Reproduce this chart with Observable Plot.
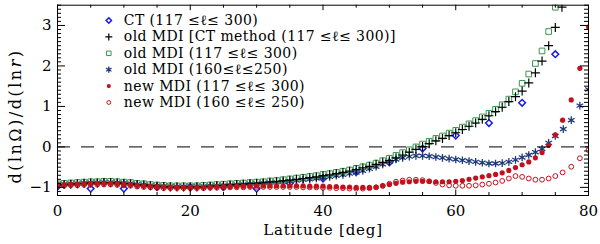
<!DOCTYPE html>
<html><head><meta charset="utf-8">
<script src="https://cdn.jsdelivr.net/npm/d3@7"></script>
<script src="https://cdn.jsdelivr.net/npm/@observablehq/plot@0.6"></script>
<style>html,body{margin:0;padding:0;background:#fff}#chart svg{display:block}</style>
</head><body><div id="chart"></div>
<script>
// ---- data ----
const latCT = [0,5,10,15,20,25,30,35,40,45,50,55,60,65,70,75];
const valCT = [-0.98,-1.03,-1.03,-0.99,-0.99,-0.99,-1.03,-0.9,-0.78,-0.62,-0.38,-0.04,0.28,0.59,1.09,2.29];

const latOld117 = [0,1,2,3,4,5,6,7,8,9,10,11,12,13,14,15,16,17,18,19,20,21,22,23,24,25,26,27,28,29,30,31,32,33,34,35,36,37,38,39,40,41,42,43,44,45,46,47,48,49,50,51,52,53,54,55,56,57,58,59,60,61,62,63,64,65,66,67,68,69,70,71,72,73,74,75];
const valOld117 = [-0.91,-0.9,-0.89,-0.88,-0.87,-0.86,-0.86,-0.85,-0.85,-0.86,-0.87,-0.88,-0.9,-0.91,-0.93,-0.94,-0.95,-0.96,-0.96,-0.96,-0.96,-0.96,-0.95,-0.94,-0.93,-0.92,-0.91,-0.9,-0.89,-0.88,-0.87,-0.86,-0.84,-0.83,-0.81,-0.79,-0.77,-0.75,-0.73,-0.71,-0.68,-0.66,-0.63,-0.6,-0.57,-0.53,-0.49,-0.45,-0.4,-0.34,-0.28,-0.21,-0.14,-0.07,0.0,0.07,0.14,0.21,0.27,0.34,0.41,0.49,0.57,0.65,0.74,0.83,0.93,1.04,1.18,1.36,1.57,1.8,2.06,2.37,2.85,3.45];

const latOldCT = [0,1,2,3,4,5,6,7,8,9,10,11,12,13,14,15,16,17,18,19,20,21,22,23,24,25,26,27,28,29,30,31,32,33,34,35,36,37,38,39,40,41,42,43,44,45,46,47,48,49,50,51,52,53,54,55,56,57,58,59,60,61,62,63,64,65,66,67,68,69,70,71,72,73,74,75,76];
const valOldCT = [-0.94,-0.93,-0.92,-0.91,-0.9,-0.89,-0.89,-0.88,-0.88,-0.89,-0.9,-0.91,-0.93,-0.94,-0.96,-0.97,-0.98,-0.99,-0.99,-0.99,-0.99,-0.99,-0.98,-0.97,-0.96,-0.95,-0.94,-0.93,-0.92,-0.91,-0.9,-0.89,-0.87,-0.86,-0.84,-0.82,-0.8,-0.78,-0.76,-0.74,-0.71,-0.69,-0.66,-0.63,-0.6,-0.56,-0.52,-0.48,-0.43,-0.38,-0.34,-0.27,-0.2,-0.13,-0.06,0.01,0.08,0.15,0.21,0.28,0.35,0.43,0.51,0.59,0.68,0.77,0.87,0.98,1.12,1.24,1.38,1.58,1.83,2.12,2.5,2.95,3.45];

const latOld160 = [0,1,2,3,4,5,6,7,8,9,10,11,12,13,14,15,16,17,18,19,20,21,22,23,24,25,26,27,28,29,30,31,32,33,34,35,36,37,38,39,40,41,42,43,44,45,46,47,48,49,50,51,52,53,54,55,56,57,58,59,60,61,62,63,64,65,66,67,68,69,70,71,72,73,74,75,76.2,77.4,78.7,80];
const valOld160 = [-0.93,-0.92,-0.91,-0.9,-0.89,-0.88,-0.88,-0.87,-0.87,-0.88,-0.89,-0.9,-0.92,-0.93,-0.95,-0.96,-0.97,-0.97,-0.98,-0.98,-0.98,-0.97,-0.97,-0.96,-0.95,-0.95,-0.94,-0.93,-0.92,-0.91,-0.9,-0.89,-0.88,-0.87,-0.86,-0.85,-0.83,-0.81,-0.8,-0.78,-0.76,-0.74,-0.71,-0.69,-0.66,-0.63,-0.59,-0.54,-0.49,-0.43,-0.37,-0.31,-0.27,-0.24,-0.22,-0.22,-0.23,-0.25,-0.27,-0.29,-0.31,-0.33,-0.35,-0.37,-0.39,-0.41,-0.41,-0.4,-0.37,-0.32,-0.26,-0.2,-0.13,-0.05,0.1,0.27,0.44,0.66,1.02,1.42];

const latNew117 = [0,1,2,3,4,5,6,7,8,9,10,11,12,13,14,15,16,17,18,19,20,21,22,23,24,25,26,27,28,29,30,31,32,33,34,35,36,37,38,39,40,41,42,43,44,45,46,47,48,49,50,51,52,53,54,55,56,57,58,59,60,61,62,63,64,65,66,67,68,69,70,71,72,73,74,75,76.1,77.4,78.7,80];
const valNew117 = [-0.93,-0.93,-0.92,-0.92,-0.91,-0.9,-0.9,-0.9,-0.9,-0.91,-0.92,-0.93,-0.95,-0.96,-0.97,-0.98,-0.98,-0.99,-0.99,-0.99,-0.99,-0.99,-0.99,-0.99,-0.98,-0.98,-0.98,-0.97,-0.97,-0.97,-0.96,-0.96,-0.96,-0.96,-0.96,-0.96,-0.96,-0.96,-0.97,-0.97,-0.97,-0.98,-0.98,-0.99,-0.99,-1.0,-1.0,-1.0,-0.99,-0.96,-0.93,-0.9,-0.87,-0.86,-0.85,-0.85,-0.85,-0.86,-0.86,-0.86,-0.85,-0.83,-0.8,-0.77,-0.74,-0.71,-0.68,-0.64,-0.58,-0.51,-0.44,-0.37,-0.27,-0.14,0.04,0.3,0.66,1.16,1.94,2.96];

const latNew160 = [0,1,2,3,4,5,6,7,8,9,10,11,12,13,14,15,16,17,18,19,20,21,22,23,24,25,26,27,28,29,30,31,32,33,34,35,36,37,38,39,40,41,42,43,44,45,46,47,48,49,50,51,52,53,54,55,56,57,58,59,60,61,62,63,64,65,66,67,68,69,70,71,72,73,74,75,76.1,77.4,78.7,80];
const valNew160 = [-0.96,-0.96,-0.95,-0.95,-0.94,-0.93,-0.93,-0.93,-0.93,-0.94,-0.95,-0.96,-0.98,-0.99,-1.0,-1.01,-1.02,-1.02,-1.02,-1.02,-1.02,-1.02,-1.02,-1.01,-1.01,-1.01,-1.0,-1.0,-1.0,-0.99,-0.99,-0.99,-0.99,-0.99,-0.99,-0.99,-0.99,-1.0,-1.0,-1.0,-1.01,-1.01,-1.02,-1.02,-1.03,-1.03,-1.03,-1.02,-1.0,-0.96,-0.91,-0.86,-0.83,-0.81,-0.81,-0.82,-0.85,-0.89,-0.93,-0.95,-0.96,-0.96,-0.96,-0.95,-0.93,-0.91,-0.88,-0.84,-0.78,-0.72,-0.74,-0.78,-0.81,-0.81,-0.78,-0.72,-0.63,-0.49,-0.28,-0.08];

const legendLabels = [
  "CT (117 \u2264\u2113\u2264 300)",
  "old MDI [CT method (117 \u2264\u2113\u2264 300)]",
  "old MDI (117 \u2264\u2113\u2264 300)",
  "old MDI (160\u2264\u2113\u2264250)",
  "new MDI (117 \u2264\u2113\u2264 300)",
  "new MDI (160 \u2264\u2113\u2264 250)"
];
const xMajor = [0,20,40,60,80];
const xMinor = [5,10,15,25,30,35,45,50,55,65,70,75];
const yMajor = [-1,0,1,2,3];
const yMinor = d3.range(-12, 36).map(i => i / 10).filter(v => Math.abs(v - Math.round(v)) > 1e-6);
const xLabel = "Latitude [deg]";
const yLabel = "d(ln\u03A9)/d(lnr)";

// ---- layout / style ----
const W = 600, H = 244, ML = 57, MR = 12, MT = 4.7, MB = 49;
const FW = W - ML - MR, FH = H - MT - MB;
const zip = (xs, ys) => xs.map((x, i) => ({x, y: ys[i]}));

const series = [
  {data: zip(latCT, valCT),         symbol: "diamond2", r: 3.0, stroke: "#1a1ae6", fill: "none", sw: 1.5},
  {data: zip(latOldCT, valOldCT),   symbol: "plus",     r: 3.0, stroke: "#000000", fill: "none", sw: 1.2},
  {data: zip(latOld117, valOld117), symbol: "square2",  r: 3.6, stroke: "#3a9650", fill: "none", sw: 1.0},
  {data: zip(latOld160, valOld160), symbol: "asterisk", r: 3.6, stroke: "#1f3a7a", fill: "none", sw: 1.3},
  {data: zip(latNew117, valNew117), symbol: "circle",   r: 2.6, stroke: "none",    fill: "#c3101c", sw: 0},
  {data: zip(latNew160, valNew160), symbol: "circle",   r: 2.4, stroke: "#c3101c", fill: "none", sw: 1.0}
];
const drawOrder = [0, 3, 2, 1, 4, 5];
const rowY = [20, 36.4, 52.8, 69.2, 85.6, 102];

const marks = [];
for (const i of drawOrder) {
  const s = series[i];
  marks.push(Plot.dot(s.data, {x: "x", y: "y", symbol: s.symbol, r: s.r, stroke: s.stroke, fill: s.fill, strokeWidth: s.sw, clip: true}));
}
marks.push(Plot.ruleY([0], {stroke: "#000", strokeWidth: 1, strokeDasharray: "13,11"}));
// legend
series.forEach((s, i) => {
  marks.push(Plot.dot([0], {frameAnchor: "top-left", dx: 51.3, dy: rowY[i] - MT, symbol: s.symbol, r: s.r * 0.8, stroke: s.stroke, fill: s.fill, strokeWidth: s.sw}));
  marks.push(Plot.text([legendLabels[i]], {frameAnchor: "top-left", dx: 66.3, dy: rowY[i] - MT, text: d => d, textAnchor: "start", lineAnchor: "middle", fontSize: 14, fill: "#000", ariaDescription: "legend"}));
});
// inward ticks on all four sides
marks.push(
  Plot.ruleX(xMajor, {insetTop: FH - 5.5, stroke: "#000"}),
  Plot.ruleX(xMajor, {insetBottom: FH - 5.5, stroke: "#000"}),
  Plot.ruleX(xMinor, {insetTop: FH - 3, stroke: "#000"}),
  Plot.ruleX(xMinor, {insetBottom: FH - 3, stroke: "#000"}),
  Plot.ruleY(yMajor, {insetRight: FW - 8, stroke: "#000"}),
  Plot.ruleY(yMajor, {insetLeft: FW - 8, stroke: "#000"}),
  Plot.ruleY(yMinor, {insetRight: FW - 4, stroke: "#000"}),
  Plot.ruleY(yMinor, {insetLeft: FW - 4, stroke: "#000"}),
  Plot.frame({stroke: "#000", strokeWidth: 1}),
  Plot.axisX(xMajor, {anchor: "bottom", tickSize: 0, tickPadding: 10, label: null, fontSize: 15}),
  Plot.axisY(yMajor, {anchor: "left", tickSize: 0, tickPadding: 6, label: null, fontSize: 15}),
  Plot.text([xLabel], {frameAnchor: "bottom", dy: 35, text: d => d, lineAnchor: "middle", fontSize: 15, fill: "#000", ariaDescription: "xlabel"}),
  Plot.text([yLabel], {frameAnchor: "left", rotate: -90, text: d => d, lineAnchor: "middle", fontSize: 16, fill: "#000", ariaDescription: "ylabel"})
);

const chart = Plot.plot({
  width: W, height: H,
  marginLeft: ML, marginRight: MR, marginTop: MT, marginBottom: MB,
  x: {domain: [0, 80]},
  y: {domain: [-1.2, 3.5]},
  style: {fontFamily: "DejaVu Serif", fontSize: "15px", color: "#000", background: "#fff"},
  marks
});
document.getElementById("chart").append(chart);

// typographic touches: italic r, letter spacing, label placement
const svg = d3.select(chart);
svg.selectAll('g[aria-description="xlabel"] text').style("letter-spacing", "0.8px");
svg.selectAll('g[aria-description="legend"] text').style("letter-spacing", "0.4px");
const ylG = svg.select('g[aria-description="ylabel"]');
if (!ylG.empty()) {
  const ylText = ylG.select("text");
  ylText.text("");
  ylText.append("tspan").text("d(ln\u03A9)/d(ln");
  ylText.append("tspan").attr("font-style", "italic").text("r");
  ylText.append("tspan").text(")");
  ylText.style("letter-spacing", "2.5px");
  // centre the rotated y label at (15, 116) in the page
  const svgBox = chart.getBoundingClientRect();
  const lb = ylText.node().getBoundingClientRect();
  const cx = lb.left + lb.width / 2 - svgBox.left, cy = lb.top + lb.height / 2 - svgBox.top;
  const prev = ylG.attr("transform") || "";
  ylG.attr("transform", `translate(${15 - cx},${116 - cy}) ${prev}`);
}
</script>
</body></html>
